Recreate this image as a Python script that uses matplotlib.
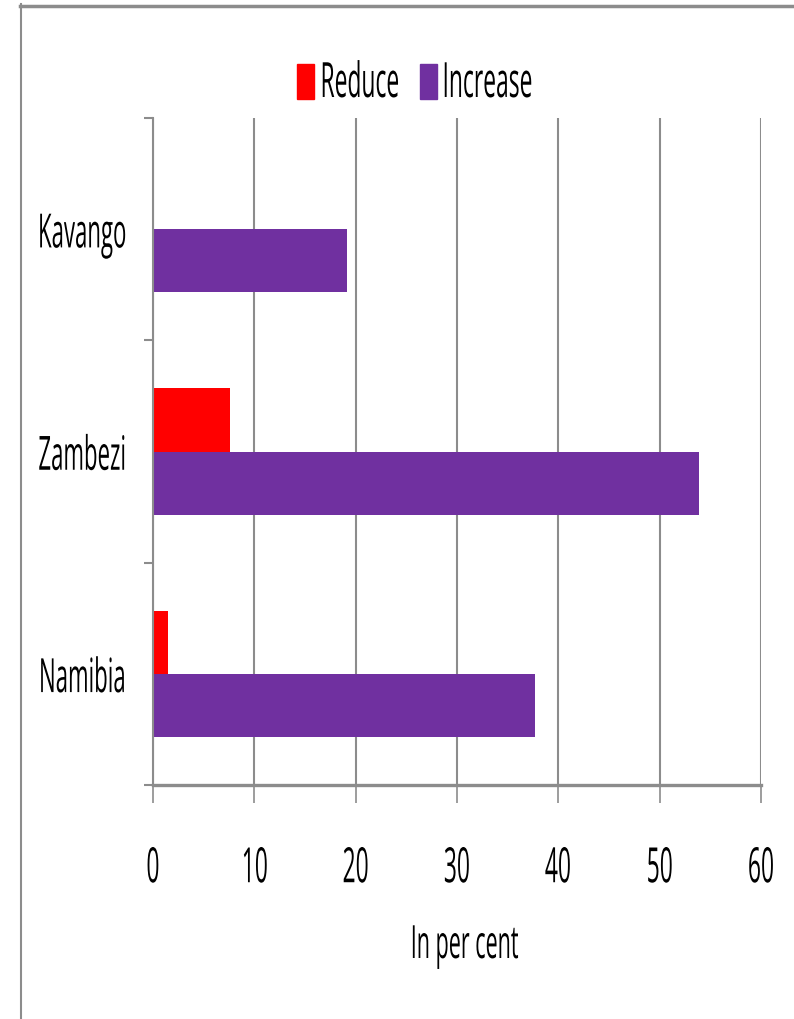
import numpy as np
import matplotlib
matplotlib.use('Agg')
import matplotlib.pyplot as plt
from matplotlib import patheffects
from matplotlib.transforms import Affine2D
from matplotlib.patches import Rectangle
from matplotlib.lines import Line2D

plt.rcParams['font.family'] = ['Open Sans', 'DejaVu Sans']

# Share of respondents (per cent) by region
regions = ['Kavango', 'Zambezi', 'Namibia']
reduce_pct = [0.0, 7.6, 1.5]
increase_pct = [19.1, 53.9, 37.7]
x_ticks = [0, 10, 20, 30, 40, 50, 60]

RED = '#FF0000'
PURPLE = '#7030A0'
GRAY = '#8C8C8C'


class Squeeze(patheffects.AbstractPathEffect):
    """Draw text glyphs horizontally condensed around an anchor."""

    def __init__(self, sx=0.47, anchor='center'):
        super().__init__()
        self.sx = sx
        self.anchor = anchor

    def draw_path(self, renderer, gc, tpath, affine, rgbFace=None):
        ext = tpath.get_extents()
        if self.anchor == 'right':
            x0 = ext.x1
        elif self.anchor == 'left':
            x0 = ext.x0
        else:
            x0 = 0.5 * (ext.x0 + ext.x1)
        t = Affine2D().translate(-x0, 0).scale(self.sx, 1).translate(x0, 0) + affine
        renderer.draw_path(gc, tpath, t, rgbFace)


W, H = 794, 1019
fig = plt.figure(figsize=(W / 100, H / 100), dpi=100)
ax = fig.add_axes([153 / W, 1 - 785 / H, 608 / W, 667 / H])

y_pos = np.arange(len(regions))[::-1]
h = 0.284
ax.barh(y_pos + h / 2, reduce_pct, height=h, color=RED, label='Reduce')
ax.barh(y_pos - h / 2, increase_pct, height=h, color=PURPLE, label='Increase')

ax.set_xlim(0, 60)
ax.set_ylim(-0.5, 2.5)
ax.set_xticks(x_ticks)
ax.set_xticklabels([str(v) for v in x_ticks])
ax.set_yticks([-0.5, 0.5, 1.5, 2.5])
ax.set_yticklabels([])
ax.set_yticks(y_pos, minor=True)
ax.set_yticklabels(regions, minor=True)

ax.grid(axis='x', color=GRAY, lw=1.5)
ax.set_axisbelow(True)
for s in ['top', 'right']:
    ax.spines[s].set_visible(False)
ax.spines['left'].set_color(GRAY)
ax.spines['left'].set_linewidth(1.5)
ax.spines['bottom'].set_color(GRAY)
ax.spines['bottom'].set_linewidth(2.4)

ax.tick_params(axis='y', which='major', direction='out', length=6.5, width=1.5, color=GRAY)
ax.tick_params(axis='y', which='minor', length=0, pad=18, labelsize=34)
ax.tick_params(axis='x', direction='out', length=13, width=1.2, color=GRAY, pad=30, labelsize=35)

ax.set_xlabel('In per cent', fontsize=33, va='baseline')
ax.xaxis.set_label_coords(0.511, -(958 - 785) / 667)

# legend drawn by hand so the condensed labels sit close to their swatches
fig.add_artist(Rectangle((297 / W, 1 - 99 / H), 17 / W, 35 / H, transform=fig.transFigure, color=RED))
fig.add_artist(Rectangle((420 / W, 1 - 99 / H), 17 / W, 35 / H, transform=fig.transFigure, color=PURPLE))
t1 = fig.text(318 / W, 1 - 97 / H, 'Reduce', fontsize=35, va='baseline', ha='left')
t2 = fig.text(440 / W, 1 - 97 / H, 'Increase', fontsize=35, va='baseline', ha='left')

# chart border
fig.add_artist(Line2D([20 / W, 1], [1 - 5.5 / H] * 2, transform=fig.transFigure, color=GRAY, lw=2.5))
fig.add_artist(Line2D([20.5 / W] * 2, [0, 1 - 4 / H], transform=fig.transFigure, color=GRAY, lw=1.5))

for t in ax.xaxis.get_major_ticks():
    t.label1.set_path_effects([Squeeze(anchor='center')])
for t in ax.yaxis.get_minor_ticks():
    t.label1.set_path_effects([Squeeze(anchor='right')])
ax.xaxis.label.set_path_effects([Squeeze(anchor='center')])
t1.set_path_effects([Squeeze(anchor='left')])
t2.set_path_effects([Squeeze(anchor='left')])

fig.savefig('out.png', dpi=100)
